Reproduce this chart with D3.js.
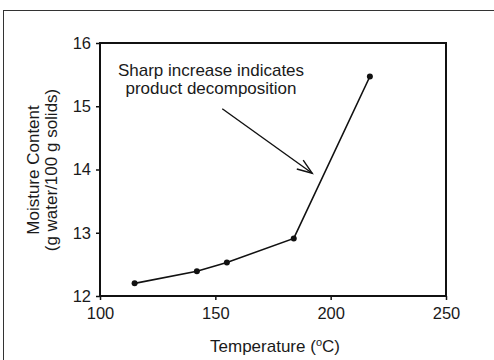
<!DOCTYPE html>
<html>
<head>
<meta charset="utf-8">
<script src="https://cdn.jsdelivr.net/npm/d3@7"></script>
<style>
  body { margin: 0; background: #fff; }
  svg { display: block; font-family: "Liberation Sans", Arial, sans-serif; }
</style>
</head>
<body>
<svg id="chart" width="494" height="360"></svg>
<script>
var temps = [115, 142, 155, 184, 217];
var moisture = [12.2, 12.39, 12.53, 12.91, 15.47];
var xTicks = [100, 150, 200, 250];
var yTicks = [12, 13, 14, 15, 16];

var svg = d3.select("#chart");

// outer frame of the scanned figure
svg.append("rect")
   .attr("x", 3.5).attr("y", 10.5)
   .attr("width", 500).attr("height", 360)
   .attr("fill", "none").attr("stroke", "#333").attr("stroke-width", 1);

var xscale = d3.scaleLinear().domain([100, 250]).range([100, 446]);
var yscale = d3.scaleLinear().domain([12, 16]).range([296, 43]);

var xaxis = d3.axisBottom(xscale).tickValues(xTicks).tickSize(4).tickPadding(7).tickFormat(d3.format("d"));
var yaxis = d3.axisLeft(yscale).tickValues(yTicks).tickSize(4).tickPadding(5).tickFormat(d3.format("d"));

var gx = svg.append("g").attr("transform", "translate(0,296)").call(xaxis);
var gy = svg.append("g").attr("transform", "translate(100,0)").call(yaxis);
[gx, gy].forEach(function(g){
	g.select(".domain").remove();
	g.selectAll("line").attr("stroke", "#111").attr("stroke-width", 1.5);
	g.selectAll("text").attr("fill", "#1a1a1a").style("font-size", "16.5px");
});

// plot box
svg.append("rect")
   .attr("x", 100).attr("y", 43)
   .attr("width", 346).attr("height", 253)
   .attr("fill", "none").attr("stroke", "#111").attr("stroke-width", 2);

var line = d3.line()
			.x(function(d, i){ return xscale(temps[i]); })
			.y(function(d){ return yscale(d); });

svg.append("path")
   .datum(moisture)
   .attr("d", line)
   .attr("fill", "none")
   .attr("stroke", "#111")
   .attr("stroke-width", 1.6);

svg.selectAll("circle.pt")
   .data(moisture)
   .enter().append("circle")
   .attr("class", "pt")
   .attr("cx", function(d, i){ return xscale(temps[i]); })
   .attr("cy", function(d){ return yscale(d); })
   .attr("r", 3)
   .attr("fill", "#111");

// annotation
var note = svg.append("text")
			.attr("text-anchor", "middle")
			.attr("fill", "#1a1a1a")
			.style("font-size", "17px");
note.append("tspan").attr("x", 211).attr("y", 76).text("Sharp increase indicates");
note.append("tspan").attr("x", 211).attr("y", 94).text("product decomposition");

var ax0 = xscale(153), ay0 = yscale(14.96);
var ax1 = xscale(192), ay1 = yscale(13.94);
svg.append("line")
   .attr("x1", ax0).attr("y1", ay0).attr("x2", ax1).attr("y2", ay1)
   .attr("stroke", "#111").attr("stroke-width", 1.4);
var ang = Math.atan2(ay1 - ay0, ax1 - ax0);
var hl = 16, ha = 0.35;
svg.append("path")
   .attr("d", "M" + (ax1 - hl * Math.cos(ang - ha)) + "," + (ay1 - hl * Math.sin(ang - ha)) +
              "L" + ax1 + "," + ay1 +
              "L" + (ax1 - hl * Math.cos(ang + ha)) + "," + (ay1 - hl * Math.sin(ang + ha)))
   .attr("fill", "none").attr("stroke", "#111").attr("stroke-width", 1.4);

// axis titles
var ytitle = svg.append("text")
			.attr("transform", "translate(0,170) rotate(-90)")
			.attr("text-anchor", "middle")
			.attr("fill", "#1a1a1a")
			.style("font-size", "17px");
ytitle.append("tspan").attr("x", 0).attr("y", 39).text("Moisture Content");
ytitle.append("tspan").attr("x", 0).attr("y", 57).text("(g water/100 g solids)");

var xtitle = svg.append("text")
			.attr("x", 275).attr("y", 352)
			.attr("text-anchor", "middle")
			.attr("fill", "#1a1a1a")
			.style("font-size", "17px");
xtitle.append("tspan").text("Temperature (");
xtitle.append("tspan").attr("dy", -6).style("font-size", "11px").text("o");
xtitle.append("tspan").attr("dy", 6).text("C)");
</script>
</body>
</html>
